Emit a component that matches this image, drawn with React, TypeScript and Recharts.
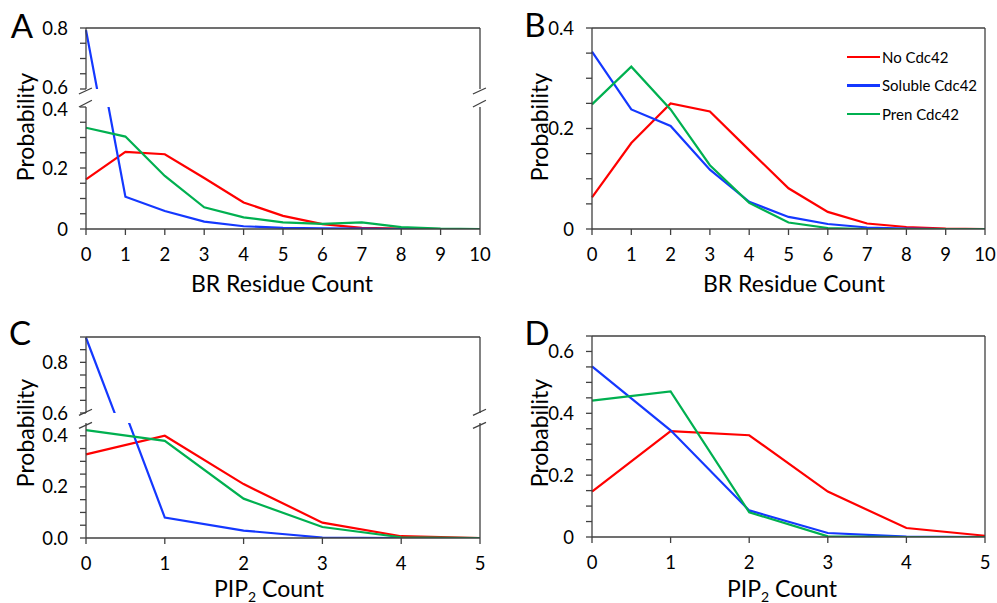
import React from 'react';
import { LineChart, Line, XAxis, YAxis, ReferenceLine, Legend } from 'recharts';

const FONT = 'Lato, "Open Sans", sans-serif';
const AXIS = '#404040';
const RED = '#FF0000';
const BLUE = '#1438FF';
const GREEN = '#00B050';

// ---------- data ----------
const brCounts = [0, 1, 2, 3, 4, 5, 6, 7, 8, 9, 10];
const aNo = [0.163, 0.253, 0.245, 0.167, 0.087, 0.043, 0.016, 0.004, 0.001, 0, 0];
const aSol = [0.793, 0.106, 0.059, 0.024, 0.009, 0.004, 0.002, 0.001, 0, 0, 0];
const aPren = [0.332, 0.303, 0.174, 0.071, 0.038, 0.022, 0.017, 0.022, 0.006, 0.001, 0];

const bNo = [0.063, 0.171, 0.25, 0.234, 0.157, 0.081, 0.034, 0.011, 0.004, 0.001, 0];
const bSol = [0.353, 0.238, 0.205, 0.118, 0.054, 0.024, 0.01, 0.003, 0.001, 0, 0];
const bPren = [0.248, 0.323, 0.238, 0.127, 0.052, 0.013, 0.002, 0, 0, 0, 0];

const pipCounts = [0, 1, 2, 3, 4, 5];
const cNo = [0.327, 0.4, 0.211, 0.06, 0.007, 0];
const cSol = [0.897, 0.08, 0.029, 0.002, 0, 0];
const cPren = [0.422, 0.38, 0.154, 0.043, 0.003, 0];

const dNo = [0.147, 0.342, 0.329, 0.147, 0.029, 0.004];
const dSol = [0.552, 0.345, 0.086, 0.013, 0.001, 0];
const dPren = [0.441, 0.471, 0.08, 0.002, 0, 0];

const seriesNames = ['No Cdc42', 'Soluble Cdc42', 'Pren Cdc42'];

// ---------- ticks ----------
const brTicks = [0, 1, 2, 3, 4, 5, 6, 7, 8, 9, 10];
const pipTicks = [0, 1, 2, 3, 4, 5];
const aUpperTicks = [0.6, 0.65, 0.7, 0.75, 0.8];
const aLowerTicks = [0, 0.05, 0.1, 0.15, 0.2, 0.25, 0.3, 0.35, 0.4];
const bTicks = [0, 0.05, 0.1, 0.15, 0.2, 0.25, 0.3, 0.35, 0.4];
const cUpperTicks = [0.6, 0.65, 0.7, 0.75, 0.8, 0.85, 0.9];
const cLowerTicks = [0, 0.05, 0.1, 0.15, 0.2, 0.25, 0.3, 0.35, 0.4];
const dTicks = [0, 0.05, 0.1, 0.15, 0.2, 0.25, 0.3, 0.35, 0.4, 0.45, 0.5, 0.55, 0.6, 0.65];
const yMajor = [0, 0.2, 0.4, 0.6, 0.8];
const yLabelsPlain = ['0', '0.2', '0.4', '0.6', '0.8'];
const yLabelsDec = ['0.0', '0.2', '0.4', '0.6', '0.8'];

const makeFmt = (labels: string[]) => (v: number) => {
  const i = yMajor.findIndex((m) => Math.abs(m - v) < 1e-6);
  return i >= 0 ? labels[i] : '';
};

const build = (xs: number[], no: number[], sol: number[], pren: number[]) =>
  xs.map((x, i) => ({ x, no: no[i], sol: sol[i], pren: pren[i] }));

const dataA = build(brCounts, aNo, aSol, aPren);
const dataB = build(brCounts, bNo, bSol, bPren);
const dataC = build(pipCounts, cNo, cSol, cPren);
const dataD = build(pipCounts, dNo, dSol, dPren);

type Rect = { x: number; y: number; w: number; h: number };
type Slash = [number, number, number, number];

const tickStyle = { fill: '#000', fontSize: 18.5, fontFamily: FONT };

function renderLegend(props: any) {
  const payload = [...(props.payload || [])].sort(
    (a: any, b: any) => seriesNames.indexOf(a.value) - seriesNames.indexOf(b.value)
  );
  return (
    <div style={{ fontFamily: FONT, fontSize: 15, color: '#000' }}>
      {payload.map((p: any) => (
        <div key={p.value} style={{ display: 'flex', alignItems: 'center', height: 28.3 }}>
          <span style={{ display: 'inline-block', width: 33, height: 2.2, background: p.color, marginRight: 2 }} />
          <span>{p.value}</span>
        </div>
      ))}
    </div>
  );
}

function makeYTick(fmt: (v: number) => string, shiftValue: number | null, shift: number) {
  return (props: any) => {
    const { x, y, payload } = props;
    const label = fmt(payload.value);
    if (!label) return <g />;
    const dy = shiftValue !== null && Math.abs(payload.value - shiftValue) < 1e-6 ? shift : 0;
    return (
      <text x={x} y={y + dy} dy="0.355em" textAnchor="end" fill="#000" fontSize={18.5} fontFamily={FONT}>
        {label}
      </text>
    );
  };
}

function Segment(props: {
  rect: Rect;
  data: any[];
  xDomain: [number, number];
  xTicks: number[];
  yDomain: [number, number];
  yTicks: number[];
  yFmt: (v: number) => string;
  top: boolean;
  bottom: boolean;
  slashes?: Slash[];
  legend?: boolean;
  shiftValue?: number;
  shift?: number;
}) {
  const { rect, data, xDomain, xTicks, yDomain, yTicks, yFmt, top, bottom, slashes, legend } = props;
  const PL = 60, PR = 20, PT = 20, PB = 45;
  const topH = 10, botH = 40, rightW = 10;
  const W = rect.w + PL + PR;
  const H = rect.h + PT + PB;
  const margin = {
    left: 0,
    right: PR - rightW,
    top: top ? PT - topH : PT,
    bottom: bottom ? PB - botH : PB,
  };
  const yTick = makeYTick(yFmt, props.shiftValue ?? null, props.shift ?? 0);
  return (
    <div style={{ position: 'absolute', left: rect.x - PL, top: rect.y - PT, width: W, height: H }}>
      <LineChart width={W} height={H} data={data} margin={margin}>
        {top && (
          <XAxis
            xAxisId="t"
            orientation="top"
            type="number"
            dataKey="x"
            domain={xDomain}
            ticks={xTicks}
            tick={false}
            tickLine={false}
            axisLine={{ stroke: AXIS, strokeWidth: 1.3 }}
            height={topH}
          />
        )}
        <XAxis
          xAxisId="b"
          orientation="bottom"
          type="number"
          dataKey="x"
          domain={xDomain}
          ticks={xTicks}
          hide={!bottom}
          tick={tickStyle}
          tickSize={6}
          tickMargin={13}
          tickLine={{ stroke: AXIS, strokeWidth: 1.3 }}
          axisLine={{ stroke: AXIS, strokeWidth: 1.3 }}
          height={botH}
          interval={0}
        />
        <YAxis
          yAxisId="l"
          orientation="left"
          type="number"
          domain={yDomain}
          ticks={yTicks}
          allowDataOverflow
          tick={yTick}
          tickSize={6}
          tickMargin={12}
          tickLine={{ stroke: AXIS, strokeWidth: 1.3 }}
          axisLine={{ stroke: AXIS, strokeWidth: 1.3 }}
          width={60}
          interval={0}
        />
        <YAxis
          yAxisId="r"
          orientation="right"
          type="number"
          domain={yDomain}
          allowDataOverflow
          tick={false}
          tickLine={false}
          axisLine={{ stroke: AXIS, strokeWidth: 1.3 }}
          width={rightW}
        />
        <Line xAxisId="b" yAxisId="l" type="linear" dataKey="no" name={seriesNames[0]} stroke={RED} strokeWidth={2.2} dot={false} isAnimationActive={false} />
        <Line xAxisId="b" yAxisId="l" type="linear" dataKey="sol" name={seriesNames[1]} stroke={BLUE} strokeWidth={2.2} dot={false} isAnimationActive={false} />
        <Line xAxisId="b" yAxisId="l" type="linear" dataKey="pren" name={seriesNames[2]} stroke={GREEN} strokeWidth={2.2} dot={false} isAnimationActive={false} />
        {(slashes || []).map((s, i) => (
          <ReferenceLine
            key={i}
            xAxisId="b"
            yAxisId="l"
            ifOverflow="visible"
            segment={[{ x: s[0], y: s[1] }, { x: s[2], y: s[3] }]}
            stroke={AXIS}
            strokeWidth={1.3}
          />
        ))}
        {legend && (
          <Legend
            layout="vertical"
            align="center"
            verticalAlign="middle"
            content={renderLegend}
            wrapperStyle={{ left: 315, top: 35, width: 150, height: 90 }}
          />
        )}
      </LineChart>
    </div>
  );
}

function Txt(props: { x: number; y: number; size: number; rotate?: boolean; children: React.ReactNode }) {
  const { x, y, size, rotate, children } = props;
  return (
    <div
      style={{
        position: 'absolute',
        left: x,
        top: y,
        transform: `translate(-50%, -50%)${rotate ? ' rotate(-90deg)' : ''}`,
        fontFamily: FONT,
        fontSize: size,
        lineHeight: 1,
        whiteSpace: 'nowrap',
        color: '#000',
      }}
    >
      {children}
    </div>
  );
}

const Pip = () => (
  <span>
    PIP<sub style={{ fontSize: 14, verticalAlign: '-5px' }}>2</sub> Count
  </span>
);

export default function App() {
  return (
    <div style={{ position: 'fixed', left: 0, top: 0, width: 997, height: 603, background: '#fff', overflow: 'hidden' }}>
      {/* Panel A */}
      <Segment
        rect={{ x: 86, y: 28, w: 394, h: 61 }}
        data={dataA}
        xDomain={[0, 10]}
        xTicks={brTicks}
        yDomain={[0.6, 0.8]}
        yTicks={aUpperTicks}
        yFmt={makeFmt(yLabelsPlain)}
        top
        bottom={false}
        shiftValue={0.6}
        shift={-2}
        slashes={[
          [-0.18, 0.5836, 0.15, 0.6033],
          [9.82, 0.5836, 10.15, 0.6033],
        ]}
      />
      <Segment
        rect={{ x: 86, y: 107, w: 394, h: 122 }}
        data={dataA}
        xDomain={[0, 10]}
        xTicks={brTicks}
        yDomain={[0, 0.4]}
        yTicks={aLowerTicks}
        yFmt={makeFmt(yLabelsPlain)}
        top={false}
        bottom
        shiftValue={0.4}
        shift={2}
        slashes={[
          [-0.18, 0.4, 0.15, 0.422],
          [9.82, 0.4, 10.15, 0.422],
        ]}
      />
      {/* Panel B */}
      <Segment
        rect={{ x: 592, y: 28, w: 393, h: 201 }}
        data={dataB}
        xDomain={[0, 10]}
        xTicks={brTicks}
        yDomain={[0, 0.4]}
        yTicks={bTicks}
        yFmt={makeFmt(yLabelsPlain)}
        top
        bottom
        legend
      />
      {/* Panel C */}
      <Segment
        rect={{ x: 86, y: 337, w: 394, h: 76 }}
        data={dataC}
        xDomain={[0, 5]}
        xTicks={pipTicks}
        yDomain={[0.6, 0.9]}
        yTicks={cUpperTicks}
        yFmt={makeFmt(yLabelsDec)}
        top
        bottom={false}
        slashes={[
          [-0.089, 0.5909, 0.076, 0.6147],
          [4.911, 0.5909, 5.076, 0.6147],
        ]}
      />
      <Segment
        rect={{ x: 86, y: 423, w: 394, h: 115 }}
        data={dataC}
        xDomain={[0, 5]}
        xTicks={pipTicks}
        yDomain={[0, 0.45]}
        yTicks={cLowerTicks}
        yFmt={makeFmt(yLabelsDec)}
        top={false}
        bottom
        slashes={[
          [-0.089, 0.429, 0.076, 0.4525],
          [4.911, 0.429, 5.076, 0.4525],
        ]}
      />
      {/* Panel D */}
      <Segment
        rect={{ x: 592, y: 336, w: 393, h: 201 }}
        data={dataD}
        xDomain={[0, 5]}
        xTicks={pipTicks}
        yDomain={[0, 0.65]}
        yTicks={dTicks}
        yFmt={makeFmt(yLabelsPlain)}
        top
        bottom
      />

      {/* Panel letters */}
      <Txt x={22} y={25} size={33}>A</Txt>
      <Txt x={535} y={24} size={33}>B</Txt>
      <Txt x={20} y={332} size={33}>C</Txt>
      <Txt x={537} y={332} size={33}>D</Txt>

      {/* Axis titles */}
      <Txt x={282} y={283} size={23}>BR Residue Count</Txt>
      <Txt x={794} y={283} size={23}>BR Residue Count</Txt>
      <Txt x={269} y={590} size={23}><Pip /></Txt>
      <Txt x={782} y={590} size={23}><Pip /></Txt>

      <Txt x={25} y={127} size={23} rotate>Probability</Txt>
      <Txt x={539} y={127} size={23} rotate>Probability</Txt>
      <Txt x={25} y={433} size={23} rotate>Probability</Txt>
      <Txt x={539} y={433} size={23} rotate>Probability</Txt>
    </div>
  );
}
